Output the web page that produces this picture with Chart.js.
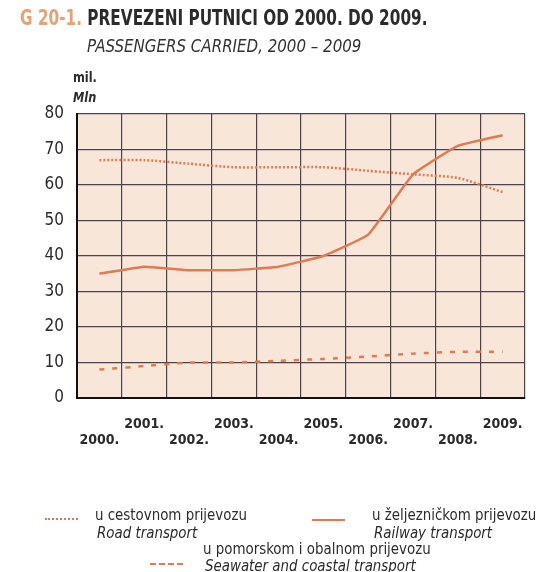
<!DOCTYPE html>
<html>
<head>
<meta charset="utf-8">
<script src="https://cdn.jsdelivr.net/npm/chart.js@4"></script>
<style>
  html, body { margin: 0; padding: 0; background: #fff; }
  #wrap { position: relative; width: 542px; height: 572px; overflow: hidden;
          font-family: "Liberation Sans Narrow", "DejaVu Sans Condensed", sans-serif; color: #2b2b2b; }
  #wrap canvas { position: absolute; left: 0; top: 0; }
  .t { position: absolute; white-space: nowrap; transform-origin: 0 0; }
  .lg { font-size: 16px; transform: scaleX(0.93); }
  .sample { position: absolute; height: 0; width: 33px; }
</style>
</head>
<body>
<div id="wrap">
  <canvas id="passChart" width="542" height="572"></canvas>

  <div class="t" style="left:20px; top:6px; font-size:21px; font-weight:bold; transform:scaleX(0.81);"><span style="color:#e9a173;">G 20-1.</span> PREVEZENI PUTNICI OD 2000. DO 2009.</div>
  <div class="t" style="left:87px; top:35px; font-size:18px; font-style:italic; color:#333; transform:scaleX(0.93);">PASSENGERS CARRIED, 2000 – 2009</div>
  <div class="t" style="left:73px; top:69px; font-size:14px; font-weight:bold; transform:scaleX(0.9);">mil.</div>
  <div class="t" style="left:73px; top:89px; font-size:14px; font-weight:bold; font-style:italic; transform:scaleX(0.9);">Mln</div>

  <!-- legend -->
  <div class="sample" style="left:45px; top:518px; border-top:2px dotted #e07a52;"></div>
  <div class="t lg" style="left:95px; top:505px;">u cestovnom prijevozu</div>
  <div class="t lg" style="left:97px; top:523px; font-style:italic;">Road transport</div>

  <div class="sample" style="left:312px; top:519px; border-top:2.5px solid #e07a52;"></div>
  <div class="t lg" style="left:372px; top:505px;">u željezničkom prijevozu</div>
  <div class="t lg" style="left:374px; top:523px; font-style:italic;">Railway transport</div>

  <div class="sample" style="left:150px; top:563px; border-top:2.5px dashed #e07a52;"></div>
  <div class="t lg" style="left:203px; top:539px;">u pomorskom i obalnom prijevozu</div>
  <div class="t lg" style="left:205px; top:556px; font-style:italic;">Seawater and coastal transport</div>
</div>

<script>
// years on the x axis
const years = ['2000.', '2001.', '2002.', '2003.', '2004.', '2005.', '2006.', '2007.', '2008.', '2009.'];

// passengers carried, millions
const road     = [67, 67, 66, 65, 65, 65, 64, 63, 62, 58];
const railway  = [35, 37, 36, 36, 37, 40, 46, 63, 71, 74];
const seawater = [8, 9, 10, 10, 10.5, 11, 11.7, 12.5, 13, 13];

const yTicks = [0, 10, 20, 30, 40, 50, 60, 70, 80];

const lineColor = '#e07a52';
const gridColor = '#4a4350';

// peach fill behind the plot area
const plotBg = {
  id: 'plotBg',
  beforeDraw(chart) {
    const { ctx, chartArea: a } = chart;
    ctx.save();
    ctx.fillStyle = '#f8e6d8';
    ctx.fillRect(a.left, a.top, a.right - a.left, a.bottom - a.top);
    ctx.restore();
  }
};

const ctx = document.getElementById('passChart').getContext('2d');
new Chart(ctx, {
  type: 'line',
  data: {
    labels: years,
    datasets: [
      { label: 'Road transport', data: road, borderColor: lineColor, borderWidth: 2.5,
        borderDash: [2, 2], pointRadius: 0, tension: 0.2 },
      { label: 'Railway transport', data: railway, borderColor: lineColor, borderWidth: 2.5,
        pointRadius: 0, tension: 0.1 },
      { label: 'Seawater and coastal transport', data: seawater, borderColor: lineColor, borderWidth: 2.5,
        borderDash: [5, 8], pointRadius: 0, tension: 0.2 }
    ]
  },
  options: {
    responsive: false,
    animation: false,
    layout: { padding: { left: 0, top: 114, right: 9, bottom: 114 } },
    plugins: { legend: { display: false }, tooltip: { enabled: false } },
    scales: {
      x: {
        offset: true,
        grid: { offset: true, color: gridColor, lineWidth: 1.2, drawTicks: false },
        border: { color: '#111', width: 2 },
        afterFit(scale) { scale.height = 60; },
        ticks: {
          padding: 19,
          color: '#2b2b2b',
          font: { family: '"Liberation Sans Narrow", "DejaVu Sans Condensed", sans-serif', size: 14, weight: 'bold', lineHeight: 1.1 },
          maxRotation: 0,
          autoSkip: false,
          callback(value, index) {
            const lab = years[index];
            return index % 2 === 0 ? ['', lab] : [lab];
          }
        }
      },
      y: {
        min: 0,
        max: 80,
        afterFit(scale) { scale.width = 77; },
        afterBuildTicks(scale) { scale.ticks = yTicks.map(v => ({ value: v })); },
        grid: { color: gridColor, lineWidth: 1.2, drawTicks: false },
        border: { color: '#111', width: 2 },
        ticks: {
          padding: 13,
          color: '#2b2b2b',
          font: { family: '"Liberation Sans Narrow", "DejaVu Sans Condensed", sans-serif', size: 17 }
        }
      }
    }
  },
  plugins: [plotBg]
});
</script>
</body>
</html>
